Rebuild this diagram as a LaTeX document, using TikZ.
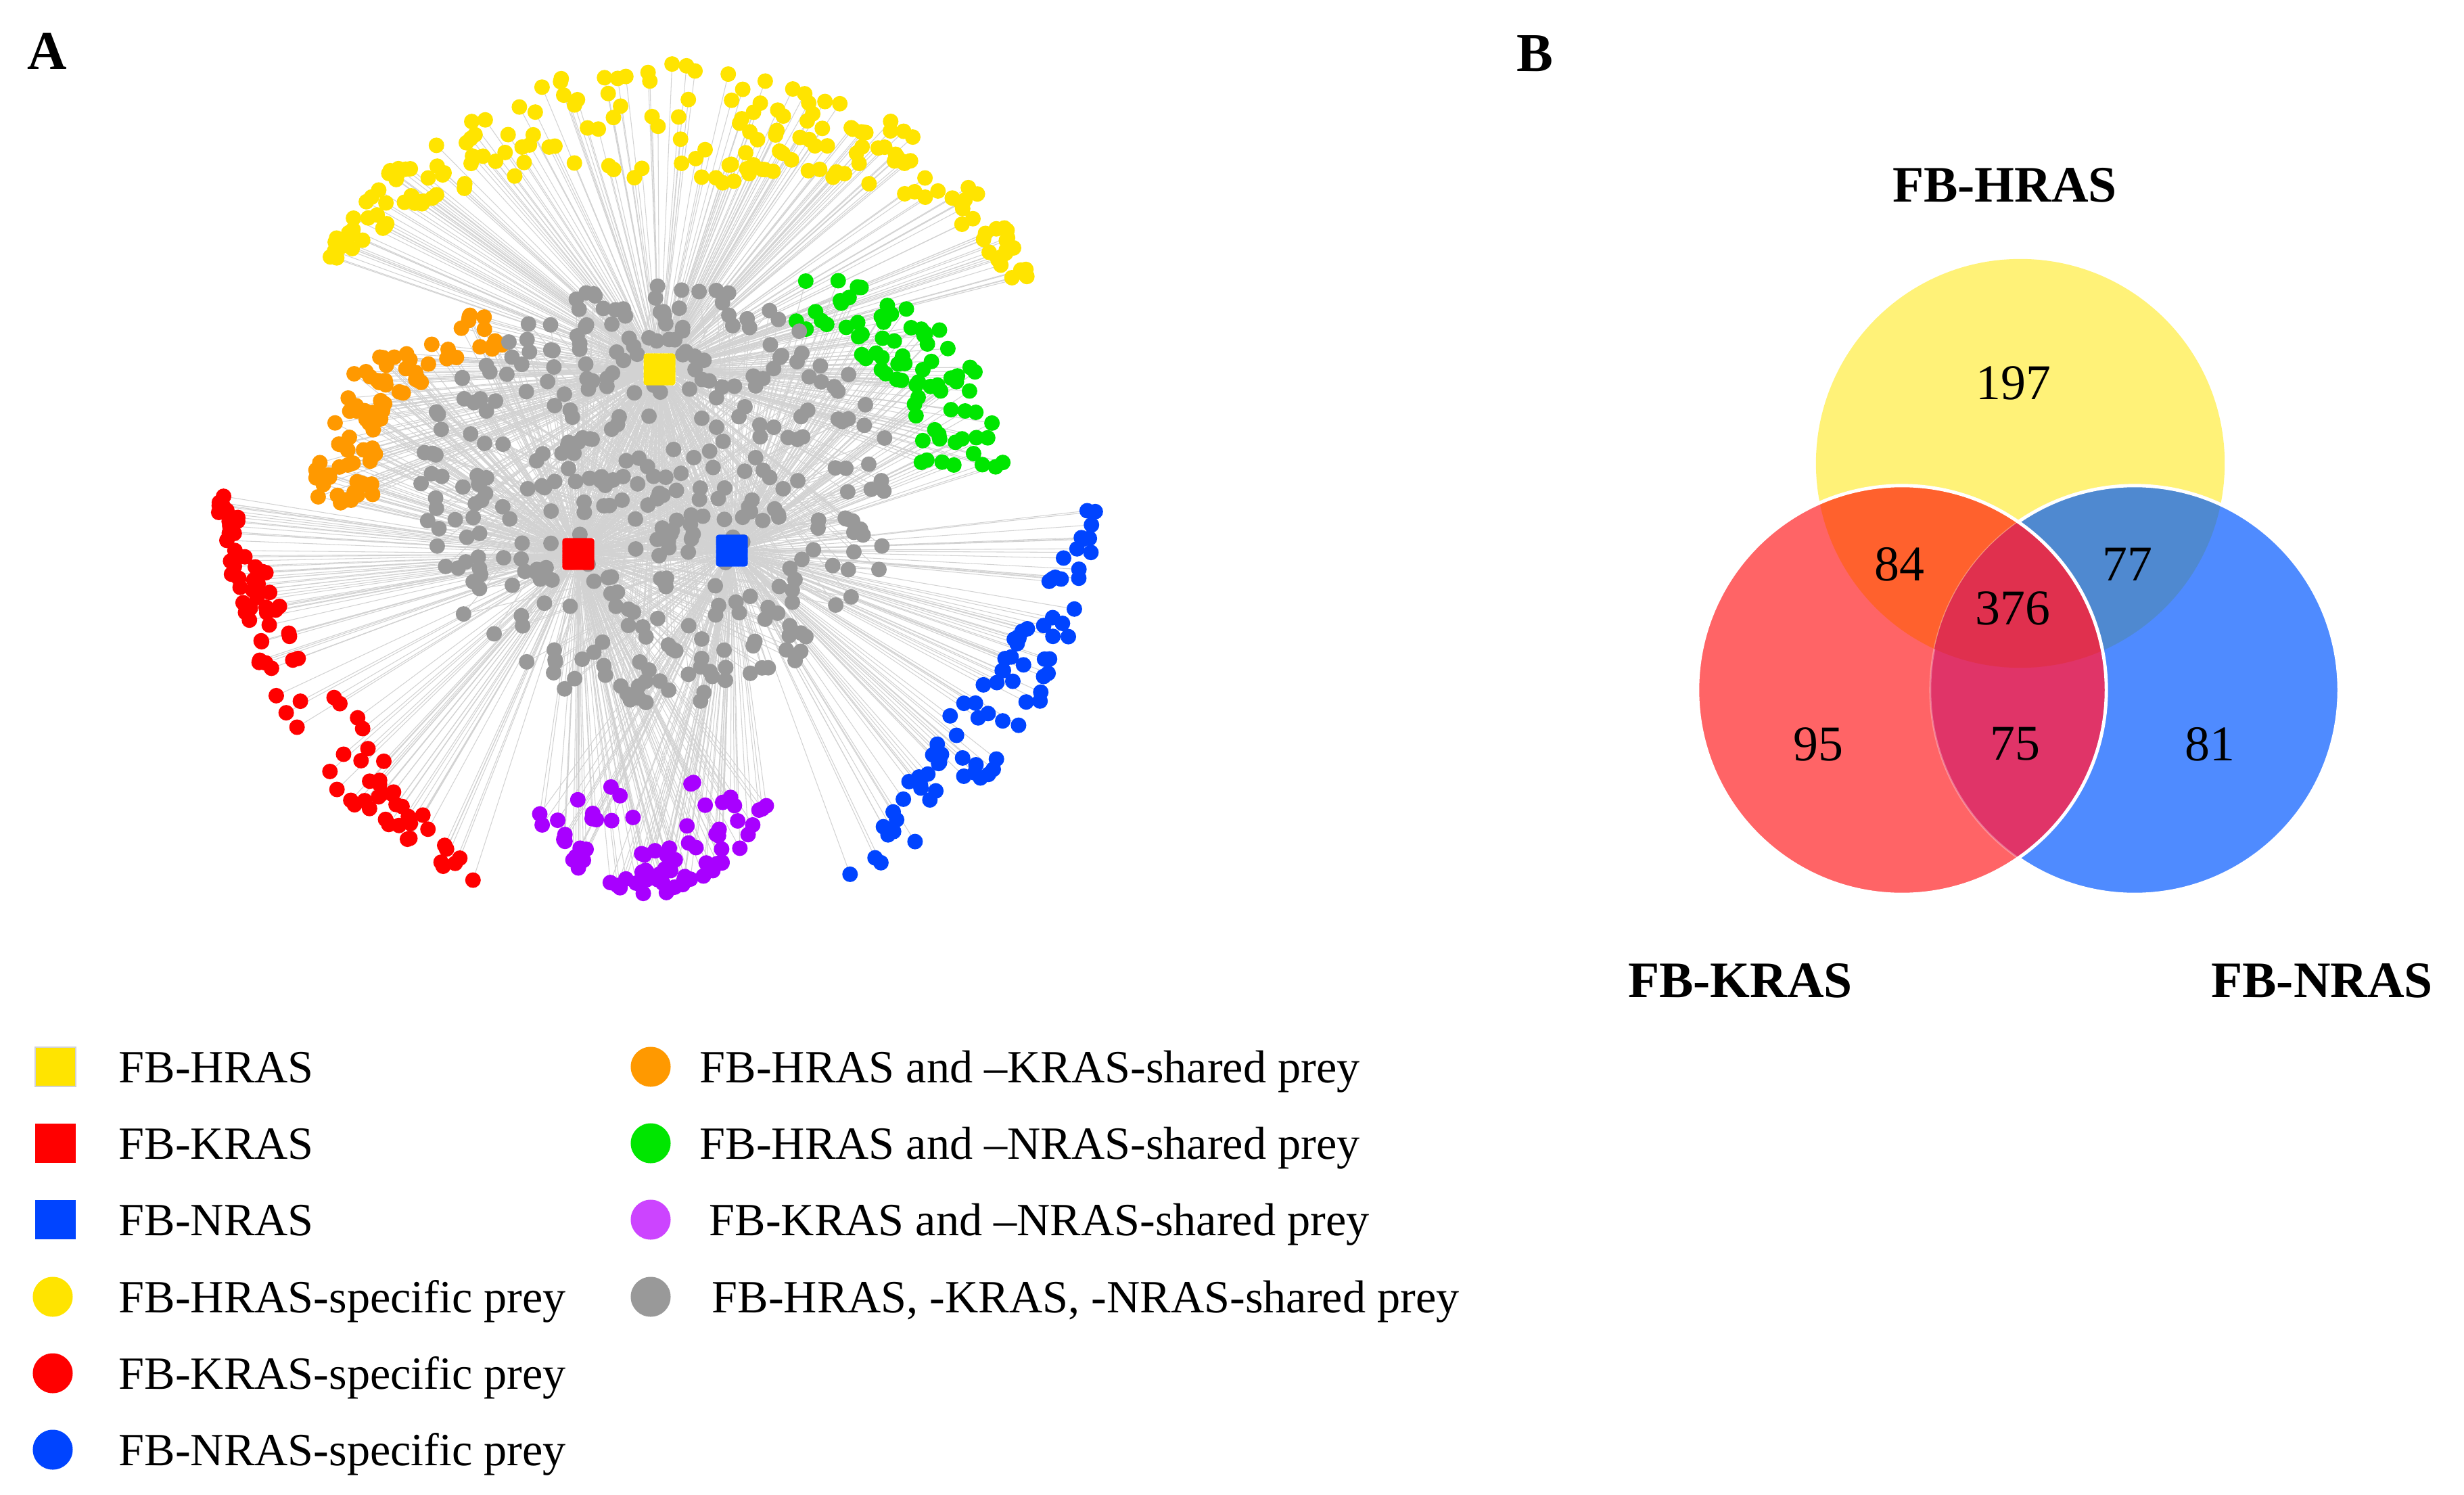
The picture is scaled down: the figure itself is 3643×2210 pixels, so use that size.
\documentclass[tikz,border=0pt]{standalone}
\usepackage{fontspec}
\setmainfont{Liberation Serif}
\usetikzlibrary{backgrounds}
\definecolor{hrasyellow}{HTML}{FFE400}
\definecolor{krasred}{HTML}{FF0000}
\definecolor{nrasblue}{HTML}{0044FF}
\definecolor{hkorange}{HTML}{FF9900}
\definecolor{hngreen}{HTML}{00E600}
\definecolor{knpurple}{HTML}{A800FF}
\definecolor{knlegend}{HTML}{CC44FF}
\definecolor{allgray}{HTML}{999999}
\definecolor{edgegray}{HTML}{D2D2D2}
\definecolor{vennyellow}{HTML}{FFF278}
\definecolor{vennred}{HTML}{FF6466}
\definecolor{vennblue}{HTML}{4F8BFF}
\definecolor{vennorange}{HTML}{FF612D}
\definecolor{vennsteel}{HTML}{4F89D0}
\definecolor{vennmagenta}{HTML}{E03468}
\definecolor{venncore}{HTML}{E0304E}

\begin{document}
\begin{tikzpicture}[x=0.01cm, y=-0.01cm,
  bait/.style={rectangle, rounded corners=0.04cm, minimum size=0.47cm, inner sep=0pt},
  edge/.style={edgegray, line width=0.3pt},
  legbox/.style={rectangle, minimum width=0.6cm, minimum height=0.58cm, inner sep=0pt},
  legdot/.style={circle, minimum size=0.59cm, inner sep=0pt},
  legtext/.style={anchor=base west, inner sep=0pt, font=\fontsize{19.4}{23}\selectfont},
  panel/.style={inner sep=0pt, font=\fontsize{23}{27}\selectfont\bfseries},
  vennlabel/.style={inner sep=0pt, font=\fontsize{21.5}{26}\selectfont\bfseries},
  vennnum/.style={inner sep=0pt, font=\fontsize{21}{25}\selectfont}]

\useasboundingbox (0,0) rectangle (3643,2210);

\node[panel] (labA) at (70,76) {A};
\node[panel] (labB) at (2269,79) {B};

% Network: prey positions and dots
\pgfmathsetseed{2718}

% FB-HRAS-specific prey (top arc)
\foreach \i in {1,...,197} {
  \pgfmathsetmacro{\ang}{19+138*rnd}
  \pgfmathsetmacro{\rf}{1-rnd*(0.05+0.34*(sin(\ang))^3)}
  \coordinate (hs\i) at ({995+560*\rf*cos(\ang)},{560-466*\rf*sin(\ang)});
  \fill[hrasyellow] (hs\i) circle[radius=1.15mm];
}

% FB-KRAS-specific prey (left arc)
\foreach \i in {1,...,95} {
  \pgfmathsetmacro{\ang}{180+65*rnd}
  \pgfmathsetmacro{\rf}{1-rnd*(0.03+0.12*sin((\ang-180)*180/65))}
  \coordinate (ks\i) at ({975+655*\rf*cos(\ang)},{730-640*\rf*sin(\ang)});
  \fill[krasred] (ks\i) circle[radius=1.15mm];
}

% FB-NRAS-specific prey (right arc)
\foreach \i in {1,...,81} {
  \pgfmathsetmacro{\ang}{-64+62*rnd}
  \pgfmathsetmacro{\rf}{1-rnd*(0.03+0.14*sin((\ang+64)*180/62))}
  \coordinate (ns\i) at ({975+650*\rf*cos(\ang)},{730-635*\rf*sin(\ang)});
  \fill[nrasblue] (ns\i) circle[radius=1.15mm];
}

% FB-HRAS and -KRAS-shared prey
\foreach \i in {1,...,84} {
  \pgfmathsetmacro{\ang}{108+88*rnd}
  \pgfmathsetmacro{\rf}{0.8+0.25*rnd}
  \coordinate (hk\i) at ({880+405*\rf*cos(\ang)},{690-240*\rf*sin(\ang)});
  \fill[hkorange] (hk\i) circle[radius=1.15mm];
}

% FB-HRAS and -NRAS-shared prey
\foreach \i in {1,...,77} {
  \pgfmathsetmacro{\ang}{-8+80*rnd}
  \pgfmathsetmacro{\rf}{0.72+0.32*rnd}
  \coordinate (hn\i) at ({1060+420*\rf*cos(\ang)},{660-260*\rf*sin(\ang)});
  \fill[hngreen] (hn\i) circle[radius=1.15mm];
}

% FB-KRAS and -NRAS-shared prey
\foreach \i in {1,...,75} {
  \pgfmathsetmacro{\ang}{212+120*rnd}
  \pgfmathsetmacro{\u}{rnd}
  \pgfmathsetmacro{\rf}{1-0.55*\u*\u}
  \coordinate (kn\i) at ({960+200*\rf*cos(\ang)},{1060-262*\rf*sin(\ang)});
  \fill[knpurple] (kn\i) circle[radius=1.15mm];
}

% shared by all three
\foreach \i in {1,...,376} {
  \pgfmathsetmacro{\ang}{360*rnd}
  \pgfmathsetmacro{\rf}{sqrt(rnd)}
  \coordinate (all\i) at ({969+355*\rf*cos(\ang)},{730-312*\rf*sin(\ang)});
  \fill[allgray] (all\i) circle[radius=1.15mm];
}

% Baits
\node[bait, fill=hrasyellow] (hras) at (975,546) {};
\node[bait, fill=krasred] (kras) at (855,819) {};
\node[bait, fill=nrasblue] (nras) at (1082,814) {};

% Interactions
\begin{pgfonlayer}{background}
\foreach \i in {1,...,197} \draw[edge] (hs\i) -- (hras);
\foreach \i in {1,...,95} \draw[edge] (ks\i) -- (kras);
\foreach \i in {1,...,81} \draw[edge] (ns\i) -- (nras);
\foreach \i in {1,...,84} {
  \draw[edge] (hk\i) -- (hras);
  \draw[edge] (hk\i) -- (kras);
}
\foreach \i in {1,...,77} {
  \draw[edge] (hn\i) -- (hras);
  \draw[edge] (hn\i) -- (nras);
}
\foreach \i in {1,...,75} {
  \draw[edge] (kn\i) -- (kras);
  \draw[edge] (kn\i) -- (nras);
}
\foreach \i in {1,...,376} {
  \draw[edge] (all\i) -- (hras);
  \draw[edge] (all\i) -- (kras);
  \draw[edge] (all\i) -- (nras);
}
\end{pgfonlayer}

% Legend
\node[legbox, fill=hrasyellow, draw=gray!35, line width=0.4pt] (lg1) at (82,1577) {};
\node[legbox, fill=krasred] (lg2) at (82,1690) {};
\node[legbox, fill=nrasblue] (lg3) at (82,1803) {};
\node[legdot, fill=hrasyellow] (lg4) at (78,1917) {};
\node[legdot, fill=krasred] (lg5) at (78,2030) {};
\node[legdot, fill=nrasblue] (lg6) at (78,2143) {};
\node[legtext] (lt1) at (175,1600) {FB-HRAS};
\node[legtext] (lt2) at (175,1713) {FB-KRAS};
\node[legtext] (lt3) at (175,1826) {FB-NRAS};
\node[legtext] (lt4) at (175,1940) {FB-HRAS-specific prey};
\node[legtext] (lt5) at (175,2053) {FB-KRAS-specific prey};
\node[legtext] (lt6) at (175,2166) {FB-NRAS-specific prey};

\node[legdot, fill=hkorange] (lg7) at (962,1577) {};
\node[legdot, fill=hngreen] (lg8) at (962,1690) {};
\node[legdot, fill=knlegend] (lg9) at (962,1803) {};
\node[legdot, fill=allgray] (lg10) at (962,1917) {};
\node[legtext] (lt7) at (1034,1600) {FB-HRAS and –KRAS-shared prey};
\node[legtext] (lt8) at (1034,1713) {FB-HRAS and –NRAS-shared prey};
\node[legtext] (lt9) at (1048,1826) {FB-KRAS and –NRAS-shared prey};
\node[legtext] (lt10) at (1052,1940) {FB-HRAS, -KRAS, -NRAS-shared prey};

% Venn diagram
\coordinate (vh) at (2987,685);
\coordinate (vk) at (2812,1020);
\coordinate (vn) at (3156,1020);
\fill[vennyellow] (vh) circle[radius=3.02cm];
\fill[vennblue] (vn) circle[radius=3.02cm];
\fill[vennred] (vk) circle[radius=3.02cm];
\begin{scope}
  \clip (vh) circle[radius=3.02cm];
  \fill[vennorange] (vk) circle[radius=3.02cm];
  \fill[vennsteel] (vn) circle[radius=3.02cm];
\end{scope}
\begin{scope}
  \clip (vk) circle[radius=3.02cm];
  \fill[vennmagenta] (vn) circle[radius=3.02cm];
  \draw[white, opacity=0.3, line width=0.8pt] (vn) circle[radius=3.02cm];
  \clip (vh) circle[radius=3.02cm];
  \fill[venncore] (vn) circle[radius=3.02cm];
\end{scope}
\begin{scope}[even odd rule]
  \clip (2300,200) rectangle (3643,1400) (vk) circle[radius=3.02cm];
  \draw[white, line width=1.4pt] (vn) circle[radius=3.02cm];
\end{scope}
\draw[white, line width=1.4pt] (vk) circle[radius=3.02cm];

\node[vennlabel] (vlh) at (2964,274) {FB-HRAS};
\node[vennlabel] (vlk) at (2573,1450) {FB-KRAS};
\node[vennlabel] (vln) at (3433,1450) {FB-NRAS};

\node[vennnum] (n197) at (2977,566) {197};
\node[vennnum] (n84) at (2808,834) {84};
\node[vennnum] (n77) at (3145,834) {77};
\node[vennnum] (n376) at (2976,899) {376};
\node[vennnum] (n95) at (2688,1100) {95};
\node[vennnum] (n75) at (2979,1100) {75};
\node[vennnum] (n81) at (3267,1100) {81};

\end{tikzpicture}
\end{document}
